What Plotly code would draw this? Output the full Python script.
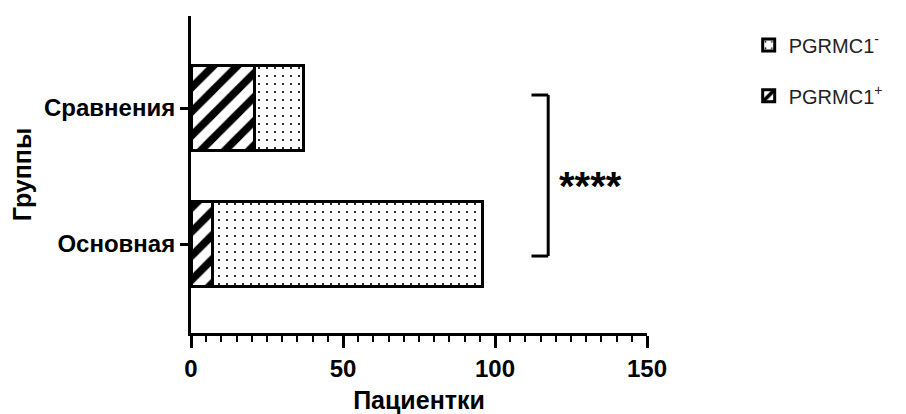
import plotly.graph_objects as go

groups = ["Основная", "Сравнения"]
pgrmc_pos = [7, 21]
pgrmc_neg = [89, 16]
x_ticks = [0, 50, 100, 150]

FONT = "Arial, Liberation Sans, sans-serif"

fig = go.Figure()
fig.add_trace(go.Bar(
    y=groups, x=pgrmc_pos, orientation="h", name="PGRMC1<sup>+</sup>",
    width=0.63, legend="legend2",
    marker=dict(color="white", line=dict(color="black", width=3),
                pattern=dict(shape="/", fgcolor="black", bgcolor="white", fgopacity=1,
                             fillmode="replace", size=17, solidity=0.45)),
))
fig.add_trace(go.Bar(
    y=groups, x=pgrmc_neg, orientation="h", name="PGRMC1<sup>-</sup>",
    width=0.63, legend="legend",
    marker=dict(color="white", line=dict(color="black", width=3),
                pattern=dict(shape=".", fgcolor="black", bgcolor="white", fgopacity=1,
                             fillmode="replace", size=8, solidity=0.06)),
))

# significance bracket
fig.add_shape(type="line", x0=117.5, x1=117.5, y0=-0.088, y1=1.096, xref="x", yref="y",
              line=dict(color="black", width=3))
fig.add_shape(type="line", x0=112, x1=117.5, y0=-0.088, y1=-0.088, xref="x", yref="y",
              line=dict(color="black", width=3))
fig.add_shape(type="line", x0=112, x1=117.5, y0=1.096, y1=1.096, xref="x", yref="y",
              line=dict(color="black", width=3))
fig.add_annotation(x=131.5, y=0.43, xref="x", yref="y", text="<b>****</b>", showarrow=False,
                   font=dict(family=FONT, size=40, color="black"))

# the page body has an 8px default margin, so the figure is drawn 8px smaller
fig.update_layout(
    template="none",
    barmode="stack",
    width=898, height=406,
    margin=dict(l=183, r=259, t=8, b=81, autoexpand=False),
    paper_bgcolor="white", plot_bgcolor="white",
    font=dict(family=FONT, color="black"),
    showlegend=True,
    legend=dict(x=1.223, y=0.97, xanchor="left", yanchor="top", bgcolor="rgba(0,0,0,0)",
                font=dict(family=FONT, size=20, color="#222")),
    legend2=dict(x=1.223, y=0.81, xanchor="left", yanchor="top", bgcolor="rgba(0,0,0,0)",
                 font=dict(family=FONT, size=20, color="#222")),
    xaxis=dict(
        range=[0, 150], tickvals=x_ticks, ticktext=[f"<b>{v}</b>" for v in x_ticks],
        automargin=False,
        showline=True, linecolor="black", linewidth=3, showgrid=False, zeroline=False,
        ticks="outside", ticklen=12, tickwidth=3, tickcolor="black",
        tickfont=dict(family=FONT, size=24, color="black"),
        minor=dict(dtick=5, ticks="outside", ticklen=6, tickwidth=2, tickcolor="black", showgrid=False),
        title=dict(text="<b>Пациентки</b>", font=dict(family=FONT, size=25, color="black"), standoff=13),
    ),
    yaxis=dict(
        range=[-0.654, 1.677], automargin=False,
        showline=True, linecolor="black", linewidth=3, showgrid=False,
        zeroline=False, ticks="outside", ticklen=8, tickwidth=3, tickcolor="black",
        categoryorder="array", categoryarray=groups,
        tickvals=groups, ticktext=[f"<b>{g}</b>" for g in groups],
        tickfont=dict(family=FONT, size=24, color="black"),
        title=dict(text="<b>Группы</b>", font=dict(family=FONT, size=25, color="black"), standoff=14),
    ),
)

fig.write_html("out.html")
